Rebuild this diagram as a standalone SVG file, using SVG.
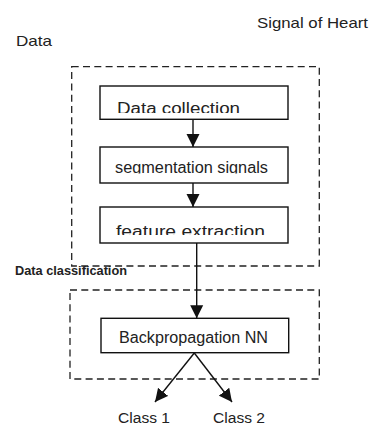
<svg xmlns="http://www.w3.org/2000/svg" width="371" height="425" viewBox="0 0 371 425">
  <defs>
    <marker id="arrow" markerUnits="userSpaceOnUse" markerWidth="14" markerHeight="14" viewBox="0 0 14 14" refX="13" refY="7" orient="auto">
      <path d="M0,0.5 L13,7 L0,13.5 Z" fill="#111"/>
    </marker>
    <clipPath id="clip1"><rect x="100" y="86" width="188" height="27"/></clipPath>
    <clipPath id="clip2"><rect x="100" y="147" width="188" height="26.5"/></clipPath>
    <clipPath id="clip3"><rect x="100" y="207" width="188" height="28"/></clipPath>
  </defs>
  <style>
    .t { font-family: "Liberation Sans", Arial, sans-serif; fill: #222; }
    .box { fill: #fff; stroke: #111; stroke-width: 1.4; }
    .group { fill: none; stroke: #222; stroke-width: 1.3; stroke-dasharray: 7 4.3; }
    .conn { fill: none; stroke: #111; stroke-width: 1.4; }
  </style>
  <rect width="371" height="425" fill="#fff"/>

  <text class="t" x="257" y="28" font-size="15" textLength="111" lengthAdjust="spacingAndGlyphs">Signal of Heart</text>
  <text class="t" x="16" y="45.5" font-size="15" textLength="36" lengthAdjust="spacingAndGlyphs">Data</text>

  <g id="group-data">
    <rect class="group" x="71.7" y="66.7" width="247.6" height="199.3"/>
  </g>
  <g id="group-classification">
    <rect class="group" x="70" y="290" width="249.3" height="89"/>
  </g>
  <text class="t" x="15" y="275" font-size="12.5" font-weight="bold" textLength="112" lengthAdjust="spacingAndGlyphs">Data classification</text>

  <g id="connectors">
    <line class="conn" x1="193" y1="119.3" x2="193" y2="147" marker-end="url(#arrow)"/>
    <line class="conn" x1="193" y1="183" x2="193" y2="207" marker-end="url(#arrow)"/>
    <line class="conn" x1="196.7" y1="243" x2="196.7" y2="318.3" marker-end="url(#arrow)"/>
    <line class="conn" x1="194.3" y1="353" x2="155" y2="402" marker-end="url(#arrow)"/>
    <line class="conn" x1="194.3" y1="353" x2="232" y2="402" marker-end="url(#arrow)"/>
  </g>

  <g id="node-data-collection">
    <rect class="box" x="100" y="86" width="188" height="33.3"/>
    <text class="t" x="117" y="114" font-size="16" textLength="123" lengthAdjust="spacingAndGlyphs" clip-path="url(#clip1)">Data collection</text>
  </g>
  <g id="node-segmentation">
    <rect class="box" x="100" y="147" width="188" height="36"/>
    <text class="t" x="115" y="173" font-size="16" textLength="153" lengthAdjust="spacingAndGlyphs" clip-path="url(#clip2)">segmentation signals</text>
  </g>
  <g id="node-feature-extraction">
    <rect class="box" x="100" y="207" width="188" height="36"/>
    <text class="t" x="116" y="237" font-size="16" textLength="149" lengthAdjust="spacingAndGlyphs" clip-path="url(#clip3)">feature extraction</text>
  </g>
  <g id="node-backpropagation">
    <rect class="box" x="101" y="318.3" width="187.7" height="34.4"/>
    <text class="t" x="119" y="343" font-size="16" textLength="149" lengthAdjust="spacingAndGlyphs">Backpropagation NN</text>
  </g>
  <g id="node-class1">
    <text class="t" x="118" y="423" font-size="15.5" textLength="52" lengthAdjust="spacingAndGlyphs">Class 1</text>
  </g>
  <g id="node-class2">
    <text class="t" x="213" y="423" font-size="15.5" textLength="52" lengthAdjust="spacingAndGlyphs">Class 2</text>
  </g>
</svg>
